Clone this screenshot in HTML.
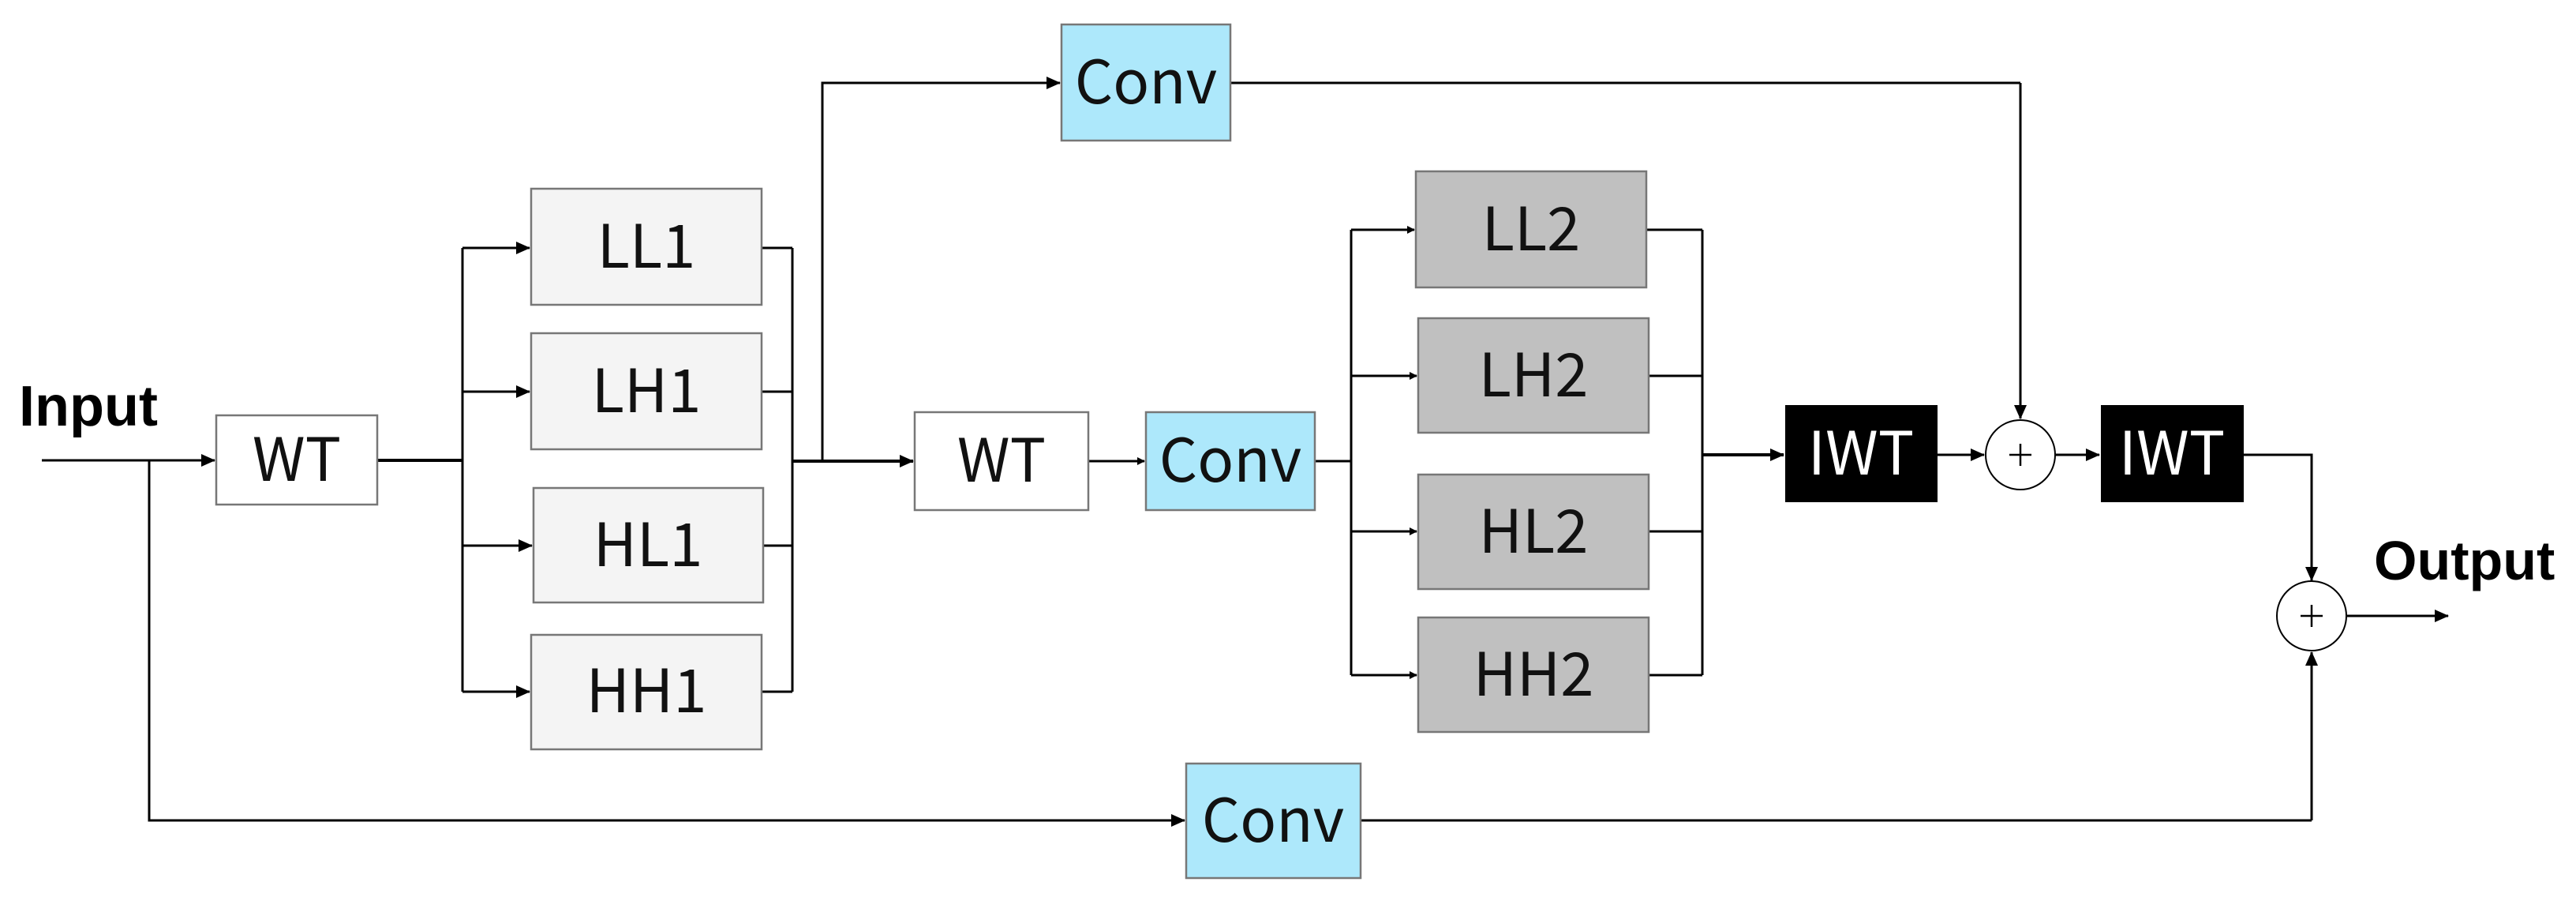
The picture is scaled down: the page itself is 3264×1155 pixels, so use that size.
<!DOCTYPE html>
<html><head><style>
html,body{margin:0;padding:0;background:#fff;}
svg text{font-family:"Noto Sans CJK SC","Liberation Sans",sans-serif;}
svg text.bl{font-family:"Liberation Sans",Arial,sans-serif;font-weight:bold;}
</style></head><body>
<svg width="3264" height="1150" viewBox="0 0 3264 1150" xmlns="http://www.w3.org/2000/svg">
<defs>
<marker id="a" markerWidth="10" markerHeight="10" refX="9" refY="5" orient="auto" markerUnits="userSpaceOnUse">
<path d="M0,0 L10,5 L0,10 z" fill="#000"/>
</marker>
<marker id="b" markerWidth="18" markerHeight="16" refX="17" refY="8" orient="auto" markerUnits="userSpaceOnUse">
<path d="M0,0 L18,8 L0,16 z" fill="#000"/>
</marker>
</defs>
<g stroke="#000" stroke-width="3" fill="none">
<line x1="53" y1="583" x2="272" y2="583" marker-end="url(#b)"/>
<polyline points="189,583 189,1039 1501,1039" marker-end="url(#b)"/>
<line x1="1724" y1="1039" x2="2929" y2="1039"/>
<line x1="2929" y1="1039" x2="2929" y2="826" marker-end="url(#b)"/>
<line x1="478" y1="583" x2="586" y2="583" stroke-width="4"/>
<line x1="586" y1="314" x2="586" y2="876"/>
<line x1="586" y1="314" x2="671" y2="314" marker-end="url(#b)"/>
<line x1="586" y1="496" x2="671" y2="496" marker-end="url(#b)"/>
<line x1="586" y1="691" x2="674" y2="691" marker-end="url(#b)"/>
<line x1="586" y1="876" x2="671" y2="876" marker-end="url(#b)"/>
<line x1="965" y1="314" x2="1004" y2="314"/>
<line x1="965" y1="496" x2="1004" y2="496"/>
<line x1="967" y1="691" x2="1004" y2="691"/>
<line x1="965" y1="876" x2="1004" y2="876"/>
<line x1="1004" y1="314" x2="1004" y2="876"/>
<line x1="1004" y1="584" x2="1157" y2="584" stroke-width="4" marker-end="url(#b)"/>
<polyline points="1042,584 1042,105 1343,105" marker-end="url(#b)"/>
<line x1="1559" y1="105" x2="2560" y2="105"/>
<line x1="2560" y1="105" x2="2560" y2="530" marker-end="url(#b)"/>
<line x1="1379" y1="584" x2="1450" y2="584" marker-end="url(#a)"/>
<line x1="1666" y1="584" x2="1712" y2="584"/>
<line x1="1712" y1="291" x2="1712" y2="855"/>
<line x1="1712" y1="291" x2="1792" y2="291" marker-end="url(#a)"/>
<line x1="1712" y1="476" x2="1795" y2="476" marker-end="url(#a)"/>
<line x1="1712" y1="673" x2="1795" y2="673" marker-end="url(#a)"/>
<line x1="1712" y1="855" x2="1795" y2="855" marker-end="url(#a)"/>
<line x1="2086" y1="291" x2="2157" y2="291"/>
<line x1="2089" y1="476" x2="2157" y2="476"/>
<line x1="2089" y1="673" x2="2157" y2="673"/>
<line x1="2089" y1="855" x2="2157" y2="855"/>
<line x1="2157" y1="291" x2="2157" y2="855"/>
<line x1="2157" y1="576" x2="2260" y2="576" stroke-width="4" marker-end="url(#b)"/>
<line x1="2455" y1="576" x2="2514" y2="576" marker-end="url(#b)"/>
<line x1="2604" y1="576" x2="2660" y2="576" marker-end="url(#b)"/>
<polyline points="2843,576 2929,576 2929,735" marker-end="url(#b)"/>
<line x1="2972" y1="780" x2="3102" y2="780" marker-end="url(#b)"/>
</g>
<g stroke="#777" stroke-width="2.5">
<rect x="274" y="526" width="204" height="113" fill="#fff"/>
<rect x="673" y="239" width="292" height="147" fill="#f4f4f4"/>
<rect x="673" y="422" width="292" height="147" fill="#f4f4f4"/>
<rect x="676" y="618" width="291" height="145" fill="#f4f4f4"/>
<rect x="673" y="804" width="292" height="145" fill="#f4f4f4"/>
<rect x="1345" y="31" width="214" height="147" fill="#ade8fb"/>
<rect x="1159" y="522" width="220" height="124" fill="#fff"/>
<rect x="1452" y="522" width="214" height="124" fill="#ade8fb"/>
<rect x="1794" y="217" width="292" height="147" fill="#c0c0c0"/>
<rect x="1797" y="403" width="292" height="145" fill="#c0c0c0"/>
<rect x="1797" y="601" width="292" height="145" fill="#c0c0c0"/>
<rect x="1797" y="782" width="292" height="145" fill="#c0c0c0"/>
<rect x="1503" y="967" width="221" height="145" fill="#ade8fb"/>
</g>
<rect x="2262" y="513" width="193" height="123" fill="#000"/>
<rect x="2662" y="513" width="181" height="123" fill="#000"/>
<g fill="#fff" stroke="#000" stroke-width="2">
<circle cx="2560" cy="576" r="44"/>
<circle cx="2929" cy="780" r="44"/>
</g>
<g stroke="#000" stroke-width="2.5">
<line x1="2546" y1="576" x2="2574" y2="576"/><line x1="2560" y1="562" x2="2560" y2="590"/>
<line x1="2915" y1="780" x2="2943" y2="780"/><line x1="2929" y1="766" x2="2929" y2="794"/>
</g>
<g font-size="76" text-anchor="middle" fill="#111">
<text x="376" y="609">WT</text>
<text x="819" y="339">LL1</text>
<text x="819" y="522">LH1</text>
<text x="821" y="717">HL1</text>
<text x="819" y="902">HH1</text>
<text x="1452" y="131">Conv</text>
<text x="1269" y="610">WT</text>
<text x="1559" y="610">Conv</text>
<text x="1940" y="317">LL2</text>
<text x="1943" y="502">LH2</text>
<text x="1943" y="700">HL2</text>
<text x="1943" y="881">HH2</text>
<text x="1613" y="1066">Conv</text>
<text x="2358" y="601" fill="#fff">IWT</text>
<text x="2752" y="601" fill="#fff">IWT</text>
</g>
<text class="bl" x="24" y="539" font-size="72" fill="#000">Input</text>
<text class="bl" x="3008" y="734" font-size="70" fill="#000">Output</text>
</svg>
</body></html>
